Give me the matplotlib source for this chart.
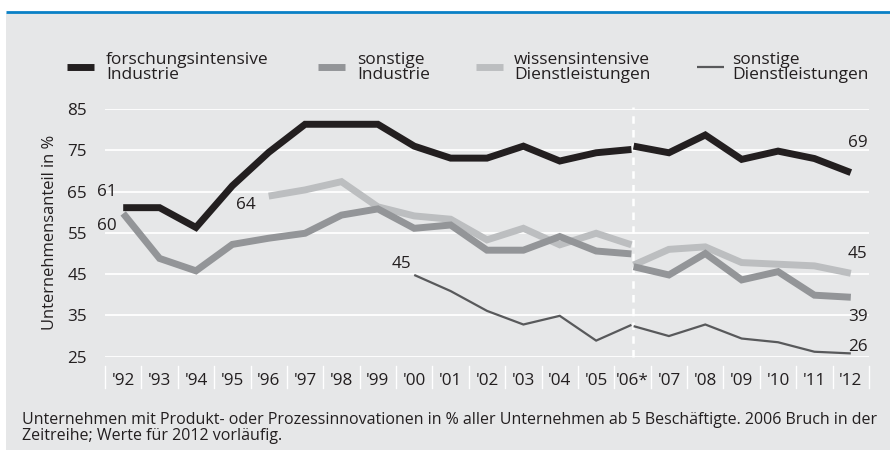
import matplotlib
matplotlib.use("Agg")
import matplotlib.pyplot as plt
from matplotlib.lines import Line2D
from matplotlib.patches import Rectangle
import matplotlib.transforms as mtransforms
import numpy as np

plt.rcParams['font.family'] = ['Open Sans', 'DejaVu Sans']

# ---------------- data ----------------
years = ["'92", "'93", "'94", "'95", "'96", "'97", "'98", "'99", "'00", "'01",
         "'02", "'03", "'04", "'05", "'06*", "'07", "'08", "'09", "'10", "'11", "'12"]

# values up to 2006 (old definition) and from 2006 (new definition)
forsch_old = [61.1, 61.1, 56.3, 66.4, 74.5, 81.3, 81.3, 81.3, 76.0, 73.1, 73.1, 76.0, 72.4, 74.4, 75.2]
forsch_new = [76.0, 74.4, 78.7, 72.8, 74.8, 73.0, 69.6]

sonst_ind_old = [59.7, 48.8, 45.8, 52.2, 53.7, 54.9, 59.3, 60.8, 56.1, 56.9, 50.8, 50.8, 54.1, 50.6, 49.9]
sonst_ind_new = [46.8, 44.8, 50.0, 43.6, 45.6, 39.9, 39.4]

wissen_old = [63.9, 65.4, 67.4, 61.3, 59.1, 58.3, 53.3, 56.1, 52.1, 54.9, 52.1]   # from '96
wissen_new = [47.2, 51.0, 51.6, 47.8, 47.4, 47.0, 45.2]

sonst_dl_old = [44.8, 40.9, 36.1, 32.8, 34.9, 28.9, 32.7]   # from '00
sonst_dl_new = [32.4, 30.0, 32.8, 29.4, 28.5, 26.2, 25.8]

series_names = ["forschungsintensive\nIndustrie", "sonstige\nIndustrie",
                "wissensintensive\nDienstleistungen", "sonstige\nDienstleistungen"]

yticks = [25, 35, 45, 55, 65, 75, 85]

footnote_lines = ["Unternehmen mit Produkt- oder Prozessinnovationen in % aller Unternehmen ab 5 "
                  "Beschäftigte. 2006 Bruch in der",
                  "Zeitreihe; Werte für 2012 vorläufig."]

# ---------------- styles ----------------
BG = '#e6e7e8'
TXT = '#231f20'
c_black = '#231f20'
c_mid = '#939598'
c_light = '#bcbec0'
c_dark = '#58595b'
BLUE = '#0a80c6'

W, H = 890, 450
fig = plt.figure(figsize=(W / 100, H / 100), dpi=100, facecolor='white')

# background panel + blue rule
fig.add_artist(Rectangle((6 / W, 0), 1 - 6 / W, (H - 13.3) / H, transform=fig.transFigure,
                         facecolor=BG, edgecolor='none', zorder=0))
fig.add_artist(Line2D([6 / W, 1], [1 - 12 / H, 1 - 12 / H], transform=fig.transFigure,
                      color=BLUE, lw=2.0, solid_capstyle='butt'))

ax_l, ax_r = 105 / W, 869 / W
ax_t, ax_b = 1 - 109 / H, 1 - 356.7 / H
ax = fig.add_axes([ax_l, ax_b, ax_r - ax_l, ax_t - ax_b])
ax.set_facecolor('none')
ax.set_xlim(-0.5, len(years) - 0.5)
ax.set_ylim(25, 85)
for s in ax.spines.values():
    s.set_visible(False)

# gridlines
for y in yticks:
    ax.axhline(y, color='white', lw=1.3, zorder=1)

ax.set_yticks(yticks)
ax.set_yticklabels([str(v) for v in yticks])
ax.tick_params(axis='y', length=0, pad=13, labelsize=12.3, labelcolor=TXT)
ax.set_xticks(range(len(years)))
ax.set_xticklabels(years)
ax.tick_params(axis='x', length=0, pad=12, labelsize=12.3, labelcolor=TXT)

# separators between x labels
trans = mtransforms.blended_transform_factory(ax.transData, ax.transAxes)
sep_x = np.arange(len(years) + 1) - 0.5
sep_top = -9.3 / (356.7 - 109)
sep_bot = -31.3 / (356.7 - 109)
for x in sep_x:
    ax.add_line(Line2D([x, x], [sep_bot, sep_top], transform=trans, color='white', lw=1.0,
                       clip_on=False))

ax.set_ylabel("Unternehmensanteil in %", fontsize=11.9, color=TXT, va='center')
ax.yaxis.set_label_coords(-(105 - 50) / 764, 0.5)

# break marker
brk = years.index("'06*")
ax.add_line(Line2D([brk, brk], [-0.002, 1.01], transform=trans, color='white', lw=1.8,
                   ls=(0, (3, 2.5)), clip_on=False, zorder=2))

eps = 0.03


def xs_old(n):
    return np.arange(brk + 1 - n, brk + 1) - np.r_[np.zeros(n - 1), eps]


def xs_new(n):
    return np.arange(brk, brk + n) + np.r_[eps, np.zeros(n - 1)]


lines_spec = [
    (forsch_old, forsch_new, c_black, 5.0, 5),
    (sonst_ind_old, sonst_ind_new, c_mid, 5.0, 4),
    (wissen_old, wissen_new, c_light, 5.0, 3),
    (sonst_dl_old, sonst_dl_new, c_dark, 1.6, 6),
]
for old, new, col, lw, z in lines_spec:
    ax.plot(xs_old(len(old)), old, color=col, lw=lw, solid_joinstyle='miter',
            solid_capstyle='butt', zorder=z, clip_on=False)
    ax.plot(xs_new(len(new)), new, color=col, lw=lw, solid_joinstyle='miter',
            solid_capstyle='butt', zorder=z, clip_on=False)

# value labels
lab_kw = dict(textcoords='offset points', fontsize=12.3, color=TXT, va='center')
ax.annotate("61", (0, forsch_old[0]), xytext=(-5, 11.5), ha='right', **lab_kw)
ax.annotate("60", (0, sonst_ind_old[0]), xytext=(-5, -9), ha='right', **lab_kw)
w0 = brk + 1 - len(wissen_old)
ax.annotate("64", (w0, wissen_old[0]), xytext=(-9, -6.5), ha='right', **lab_kw)
d0 = brk + 1 - len(sonst_dl_old)
ax.annotate("45", (d0, sonst_dl_old[0]), xytext=(-2, 8), ha='right', **lab_kw)
last = len(years) - 1
ax.annotate("69", (last, forsch_new[-1]), xytext=(-2, 21.5), ha='left', **lab_kw)
ax.annotate("45", (last, wissen_new[-1]), xytext=(-2, 14), ha='left', **lab_kw)
ax.annotate("39", (last, sonst_ind_new[-1]), xytext=(-2, -14.2), ha='left', **lab_kw)
ax.annotate("26", (last, sonst_dl_new[-1]), xytext=(-2, 4.5), ha='left', **lab_kw)

# legend (manual)
leg_handles_x = [67, 318, 476, 697]
leg_text_x = [106, 357, 514, 732]
leg_cols = [c_black, c_mid, c_light, c_dark]
leg_lw = [5.0, 5.0, 5.0, 1.6]
for hx, tx, col, lw, name in zip(leg_handles_x, leg_text_x, leg_cols, leg_lw, series_names):
    fig.add_artist(Line2D([hx / W, (hx + 27) / W], [1 - 67 / H, 1 - 67 / H],
                          transform=fig.transFigure, color=col, lw=lw, solid_capstyle='butt'))
    fig.text(tx / W, 1 - 67.5 / H, name, fontsize=12.5, color=TXT, ha='left', va='center',
             linespacing=0.98)

for i, line in enumerate(footnote_lines):
    fig.text(22 / W, 1 - (423.5 + 16 * i) / H, line, fontsize=11.55, color=TXT, ha='left',
             va='baseline')

fig.savefig("out.png", dpi=100, facecolor='white')
